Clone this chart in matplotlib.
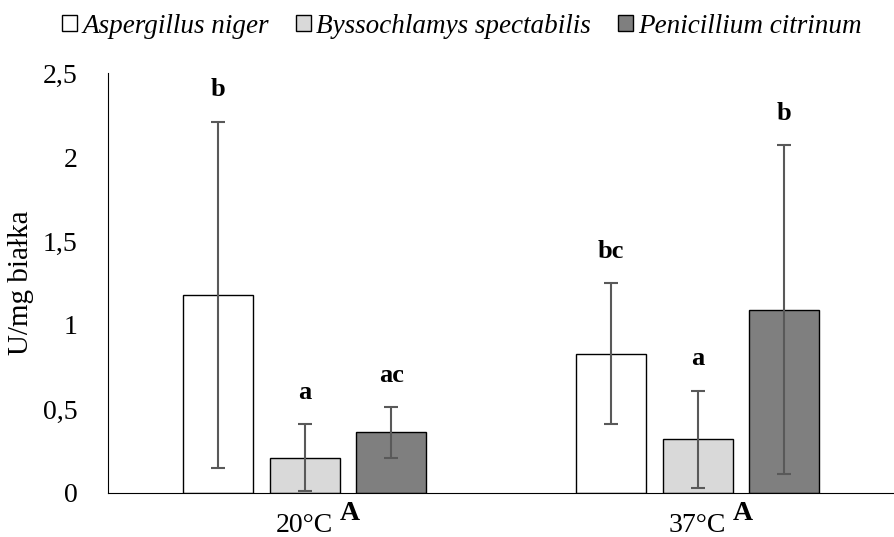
import numpy as np
import matplotlib.pyplot as plt
from matplotlib.transforms import blended_transform_factory

plt.rcParams['font.family'] = ['Liberation Serif', 'DejaVu Serif']

# data
temps = ['20°C', '37°C']
temp_letters = ['A', 'A']
species = ['Aspergillus niger', 'Byssochlamys spectabilis', 'Penicillium citrinum']
means = {
    'Aspergillus niger': [1.18, 0.83],
    'Byssochlamys spectabilis': [0.21, 0.32],
    'Penicillium citrinum': [0.36, 1.09],
}
errors = {
    'Aspergillus niger': [1.03, 0.42],
    'Byssochlamys spectabilis': [0.20, 0.29],
    'Penicillium citrinum': [0.15, 0.98],
}
letters = {
    'Aspergillus niger': ['b', 'bc'],
    'Byssochlamys spectabilis': ['a', 'a'],
    'Penicillium citrinum': ['ac', 'b'],
}
colors = ['#ffffff', '#d9d9d9', '#7f7f7f']

fig = plt.figure(figsize=(8.94, 5.37), dpi=100)
ax = fig.add_axes([0.121, 0.082, 0.879, 0.782])

x = np.arange(len(temps))
width = 0.178
offset = 0.221

for i, sp in enumerate(species):
    pos = x + (i - 1) * offset
    ax.bar(pos, means[sp], width, color=colors[i], edgecolor='black',
           linewidth=1.0, label=sp, zorder=2)
    ax.errorbar(pos, means[sp], yerr=errors[sp], fmt='none', ecolor='#595959',
                elinewidth=1.5, capsize=5, capthick=1.5, zorder=3)
    for p, m, e, lt in zip(pos, means[sp], errors[sp], letters[sp]):
        ax.text(p, m + e + 0.19, lt, ha='center', va='center',
                fontsize=19, fontweight='bold')

ax.set_xlim(-0.5, 1.5)
ax.set_ylim(0, 2.5)
ax.set_yticks([0, 0.5, 1, 1.5, 2, 2.5])
ax.set_yticklabels(['0', '0,5', '1', '1,5', '2', '2,5'], fontsize=20)
ax.tick_params(axis='y', length=0, pad=22)
ax.set_xticks(x)
ax.set_xticklabels([])
ax.tick_params(axis='x', length=0)

# category labels with the bold superscript letter
trans = blended_transform_factory(ax.transData, ax.transAxes)
for xi, t, lt in zip(x, temps, temp_letters):
    ax.text(xi, -0.093, t, transform=trans, ha='center', va='baseline',
            fontsize=20)
    ax.text(xi + 0.115, -0.064, lt, transform=trans, ha='center',
            va='baseline', fontsize=20, fontweight='bold')

ax.set_ylabel('U/mg białka', fontsize=21)
ax.yaxis.set_label_coords(-0.095, 0.5)

for s in ['top', 'right']:
    ax.spines[s].set_visible(False)
ax.spines['left'].set_color('#000000')
ax.spines['bottom'].set_color('#000000')

fig.legend(loc='upper center', bbox_to_anchor=(0.517, 1.02), ncol=3,
           frameon=False, prop={'style': 'italic', 'size': 19.5},
           handlelength=0.55, handleheight=0.55, handletextpad=0.2,
           columnspacing=1.0)

fig.savefig('out.png', dpi=100)
